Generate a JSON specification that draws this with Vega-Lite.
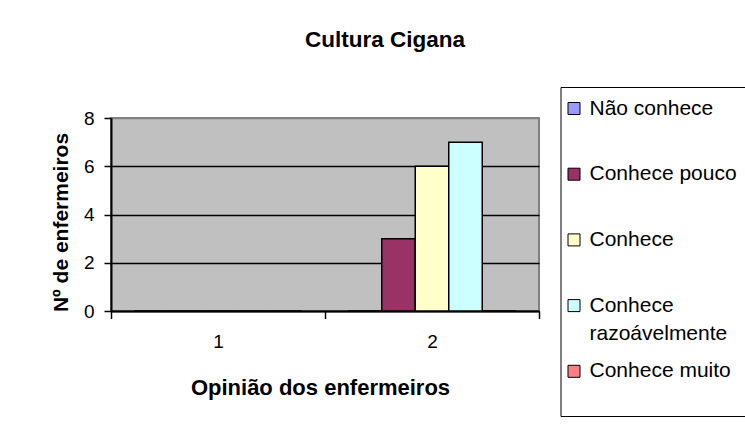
{
  "$schema": "https://vega.github.io/schema/vega-lite/v6.json",
  "width": 428,
  "height": 193,
  "autosize": "none",
  "padding": {"left": 111, "top": 118, "right": 206, "bottom": 114},
  "background": "white",
  "title": {
    "text": "Cultura Cigana",
    "fontSize": 22.5,
    "font": "Liberation Sans",
    "fontWeight": "bold",
    "color": "black",
    "anchor": "middle",
    "frame": "group",
    "dx": 60,
    "offset": 35.5
  },
  "data": {
    "values": [
      {"opiniao": "1", "nivel": "Não conhece", "n": 0},
      {"opiniao": "1", "nivel": "Conhece pouco", "n": 0},
      {"opiniao": "1", "nivel": "Conhece", "n": 0},
      {"opiniao": "1", "nivel": "Conhece razoávelmente", "n": 0},
      {"opiniao": "1", "nivel": "Conhece muito", "n": 0},
      {"opiniao": "2", "nivel": "Não conhece", "n": 0},
      {"opiniao": "2", "nivel": "Conhece pouco", "n": 3},
      {"opiniao": "2", "nivel": "Conhece", "n": 6},
      {"opiniao": "2", "nivel": "Conhece razoávelmente", "n": 7},
      {"opiniao": "2", "nivel": "Conhece muito", "n": 0}
    ]
  },
  "mark": {"type": "bar", "stroke": "black", "strokeWidth": 1.5},
  "encoding": {
    "x": {
      "field": "opiniao",
      "type": "nominal",
      "scale": {"paddingInner": 0, "paddingOuter": 0},
      "axis": {
        "title": "Opinião dos enfermeiros",
        "titleFont": "Liberation Sans",
        "titleFontSize": 22,
        "titleFontWeight": "bold",
        "titleColor": "black",
        "titlePadding": 26,
        "titleX": 209,
        "labelAngle": 0,
        "labelFont": "Liberation Sans",
        "labelFontSize": 19,
        "labelColor": "black",
        "labelPadding": 14,
        "tickBand": "extent",
        "tickSize": 7.5,
        "tickColor": "black",
        "tickWidth": 1.5,
        "domainColor": "black",
        "domainWidth": 2,
        "grid": false
      }
    },
    "xOffset": {
      "field": "nivel",
      "type": "nominal",
      "sort": ["Não conhece", "Conhece pouco", "Conhece", "Conhece razoávelmente", "Conhece muito"],
      "scale": {"paddingInner": 0, "paddingOuter": 0.694}
    },
    "y": {
      "field": "n",
      "type": "quantitative",
      "scale": {"domain": [0, 8], "nice": false},
      "axis": {
        "title": "Nº de enfermeiros",
        "titleFont": "Liberation Sans",
        "titleFontSize": 21,
        "titleFontWeight": "bold",
        "titleColor": "black",
        "titlePadding": 12,
        "titleY": 104,
        "values": [0, 2, 4, 6, 8],
        "labelFont": "Liberation Sans",
        "labelFontSize": 19,
        "labelColor": "black",
        "labelPadding": 10,
        "tickSize": 7,
        "tickColor": "black",
        "tickWidth": 1.5,
        "domainColor": "black",
        "domainWidth": 2,
        "grid": true,
        "gridColor": {"condition": {"test": "datum.value == 8", "value": "#808080"}, "value": "black"},
        "gridWidth": 1.5
      }
    },
    "color": {
      "field": "nivel",
      "type": "nominal",
      "sort": ["Não conhece", "Conhece pouco", "Conhece", "Conhece razoávelmente", "Conhece muito"],
      "scale": {
        "domain": ["Não conhece", "Conhece pouco", "Conhece", "Conhece razoávelmente", "Conhece muito"],
        "range": ["#9999FF", "#993366", "#FFFFCC", "#CCFFFF", "#FF8080"]
      },
      "legend": {
        "orient": "none",
        "legendX": 449.5,
        "legendY": -31,
        "title": " ",
        "titleOrient": "bottom",
        "titleFontSize": 10,
        "titlePadding": 14,
        "strokeColor": "black",
        "padding": 11,
        "gridAlign": "all",
        "symbolType": "square",
        "symbolSize": 144,
        "symbolStrokeColor": "black",
        "symbolStrokeWidth": 1,
        "symbolOpacity": 1,
        "symbolOffset": -8,
        "labelFont": "Liberation Sans",
        "labelFontSize": 21,
        "labelColor": "black",
        "labelOffset": 5,
        "labelLimit": 300,
        "rowPadding": 15.7,
        "labelExpr": "datum.label == 'Conhece razoávelmente' ? ['Conhece', 'razoávelmente'] : datum.label"
      }
    }
  },
  "config": {
    "view": {"fill": "#c0c0c0", "stroke": "#808080", "strokeWidth": 2},
    "font": "Liberation Sans",
    "style": {"guide-label": {"lineHeight": 28}}
  }
}
